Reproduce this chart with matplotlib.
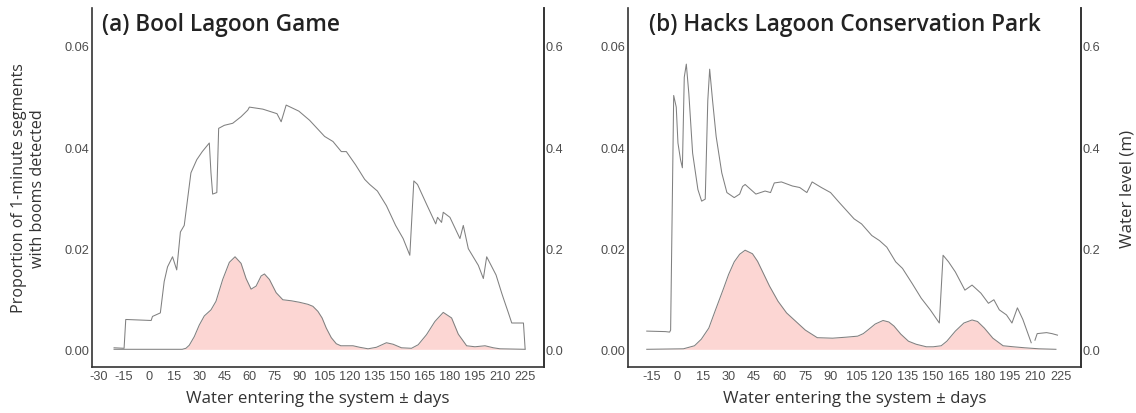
import matplotlib.pyplot as plt
import numpy as np

# panel (a) Bool Lagoon Game
a_dens_day = [-21, 0, 19.8, 22, 24, 27, 30, 33, 37, 40, 44, 48, 51.4, 55, 58, 61, 64, 67, 69, 72, 76, 80, 85, 90, 95, 98,
              101, 103.5, 106, 109, 112, 114.7, 118, 122, 126, 131, 136, 142, 146, 151, 157, 161, 166, 171, 176, 181,
              185, 190, 195, 201, 206, 210, 225]
a_dens_val = [0, 0, 0, 0.0002, 0.0008, 0.0025, 0.0048, 0.0066, 0.0078, 0.0095, 0.0138, 0.0172, 0.0183, 0.0170,
              0.0140, 0.0119, 0.0125, 0.0145, 0.0149, 0.0138, 0.0112, 0.0098, 0.0096, 0.0093, 0.0089, 0.0085,
              0.0075, 0.0062, 0.0042, 0.0023, 0.0011, 0.0007, 0.0007, 0.0007, 0.0004, 0.0001, 0.0004, 0.0013, 0.0010,
              0.0003, 0.0002, 0.0009, 0.0029, 0.0055, 0.0073, 0.0062, 0.0030, 0.0007, 0.0005, 0.0007, 0.0003, 0.0001, 0]

a_lvl_day = [-21, -15, -14, 1.2, 2, 6.7, 9, 11, 14, 16.5, 18.7, 21, 23, 25, 28.5, 31.8, 36, 37, 38, 40.5, 41.6, 45,
             50, 55, 59, 60, 68, 76.5, 79, 82, 89.6, 96, 105, 110, 115, 118, 123.5, 129, 132, 136.6, 142, 147.5,
             152, 156, 158.4, 160.6, 166, 171.5, 172.6, 175, 176, 180, 186, 188, 191, 197, 200, 202, 207.6, 211,
             212, 215, 217, 224, 225]
a_lvl_val = [0.003, 0.002, 0.059, 0.057, 0.065, 0.072, 0.134, 0.163, 0.183, 0.157, 0.232, 0.245, 0.297, 0.349,
             0.375, 0.391, 0.408, 0.349, 0.307, 0.31, 0.437, 0.443, 0.447, 0.46, 0.473, 0.479, 0.475, 0.466, 0.45,
             0.483, 0.471, 0.453, 0.421, 0.411, 0.391, 0.391, 0.365, 0.336, 0.326, 0.313, 0.284, 0.245, 0.219,
             0.186, 0.333, 0.326, 0.287, 0.248, 0.261, 0.251, 0.271, 0.261, 0.219, 0.245, 0.199, 0.166, 0.14,
             0.183, 0.147, 0.111, 0.101, 0.072, 0.052, 0.052, 0.001]

# panel (b) Hacks Lagoon Conservation Park
b_dens_day = [-18, 3.5, 10, 14, 18.4, 22, 27, 30, 33.3, 36.5, 39.7, 44, 47, 50, 54, 59, 64, 69.5, 75, 82, 91, 99,
              105.7, 109, 112, 116, 120.6, 124, 127, 131, 135.5, 140, 146, 150, 154.7, 158, 163, 168, 172.8, 176,
              180, 185, 191, 197, 203.7, 212, 222]
b_dens_val = [0, 0.0001, 0.0007, 0.0020, 0.0042, 0.0075, 0.0120, 0.0148, 0.0173, 0.0188, 0.0196, 0.0189, 0.0174,
              0.0153, 0.0125, 0.0095, 0.0072, 0.0055, 0.0038, 0.0023, 0.0022, 0.0024, 0.0026, 0.0031, 0.0039,
              0.0050, 0.0057, 0.0054, 0.0046, 0.0030, 0.0016, 0.0010, 0.0005, 0.0005, 0.0007, 0.0016, 0.0036,
              0.0052, 0.0058, 0.0055, 0.0042, 0.0022, 0.0007, 0.0005, 0.0003, 0.0001, 0]

b_lvl_day = [-18, -7, -4.6, -4, -2.2, -0.7, 0.3, 1.8, 2.9, 4, 5.2, 6.7, 8.9, 12, 14.2, 16.3, 17.8, 18.9, 20.6, 22.7,
             26, 29, 33.3, 36.5, 38.2, 39.7, 46, 51.4, 54.6, 56.8, 61, 67.4, 71.7, 75.9, 79, 84.4, 89.8, 95, 103.6,
             108, 114, 118.5, 122.8, 128, 132, 137.7, 143, 148.3, 153.6, 155.8, 159, 163, 168.6, 172.8, 178,
             182.4, 185.6, 188.8, 193, 196.2, 199.4, 202.6, 207.5]
b_lvl_val = [0.036, 0.035, 0.034, 0.038, 0.502, 0.479, 0.408, 0.375, 0.359, 0.538, 0.564, 0.505, 0.388, 0.316,
             0.293, 0.297, 0.492, 0.554, 0.492, 0.421, 0.349, 0.31, 0.3, 0.307, 0.322, 0.326, 0.307, 0.313, 0.31,
             0.329, 0.331, 0.323, 0.32, 0.31, 0.331, 0.32, 0.31, 0.29, 0.258, 0.248, 0.225, 0.215, 0.202, 0.173,
             0.16, 0.13, 0.101, 0.078, 0.052, 0.186, 0.173, 0.153, 0.117, 0.127, 0.111, 0.091, 0.098, 0.078, 0.068,
             0.052, 0.082, 0.059, 0.013]
b_lvl2_day = [209.7, 211, 216.5, 219.7, 222.9]
b_lvl2_val = [0.018, 0.031, 0.033, 0.031, 0.028]

a_ticks = list(range(-30, 226, 15))
b_ticks = list(range(-15, 226, 15))

fill_col = "#fcd6d3"
line_col = "#808080"
spine_col = "#333333"
tick_col = "#4d4d4d"
head_font = "Open Sans"
lab_size = 12.2


def panel(ax, dens_x, dens_y, lvl_parts, ticks, xlim, title, title_x):
    ax.fill_between(dens_x, 0, dens_y, color=fill_col, lw=0)
    ax.plot(dens_x, dens_y, color=line_col, lw=0.75)
    ax.set_xlim(*xlim)
    ax.set_ylim(-0.0035, 0.0675)
    ax.set_xticks(ticks)
    ax.set_xticklabels([str(t) for t in ticks])
    ax.set_yticks([0, 0.02, 0.04, 0.06])
    ax.set_yticklabels(["0.00", "0.02", "0.04", "0.06"])
    ax.tick_params(length=0, pad=2, colors=tick_col, labelsize=9.2)
    for lab in ax.get_xticklabels() + ax.get_yticklabels():
        lab.set_family("Liberation Sans")
    ax.spines["top"].set_visible(False)
    for s in ["left", "bottom", "right"]:
        ax.spines[s].set_color(spine_col)
        ax.spines[s].set_linewidth(1.2)
    ax.set_xlabel("Water entering the system ± days", family=head_font, fontsize=lab_size, color="#333333",
                  labelpad=6)
    ax.text(title_x, 0.988, title, transform=ax.transAxes, family=head_font, fontweight="semibold",
            fontsize=16.3, color="#222222", va="top", ha="left")

    ax2 = ax.twinx()
    for lx, ly in lvl_parts:
        ax2.plot(lx, ly, color=line_col, lw=0.75)
    ax2.set_ylim(-0.035, 0.675)
    ax2.set_yticks([0, 0.2, 0.4, 0.6])
    ax2.set_yticklabels(["0.0", "0.2", "0.4", "0.6"])
    ax2.tick_params(length=0, pad=1, colors=tick_col, labelsize=9.2)
    for lab in ax2.get_yticklabels():
        lab.set_family("Liberation Sans")
    for s in ["top", "left", "bottom"]:
        ax2.spines[s].set_visible(False)
    ax2.spines["right"].set_color(spine_col)
    ax2.spines["right"].set_linewidth(1.2)
    return ax2


fig = plt.figure(figsize=(11.36, 4.14), dpi=100)
ax_a = fig.add_axes([92 / 1136, 46 / 414, 452 / 1136, 359 / 414])
ax_b = fig.add_axes([628 / 1136, 46 / 414, 453 / 1136, 359 / 414])

panel(ax_a, a_dens_day, a_dens_val, [(a_lvl_day, a_lvl_val)], a_ticks, (-34.2, 236.3),
      "(a) Bool Lagoon Game", 0.022)
ax_a.set_ylabel("Proportion of 1-minute segments\nwith booms detected", family=head_font, fontsize=11.6,
                color="#333333", labelpad=13, linespacing=1.3)

ax2b = panel(ax_b, b_dens_day, b_dens_val, [(b_lvl_day, b_lvl_val), (b_lvl2_day, b_lvl2_val)], b_ticks,
             (-29, 236.7), "(b) Hacks Lagoon Conservation Park", 0.046)
ax2b.set_ylabel("Water level (m)", family=head_font, fontsize=lab_size, color="#333333", labelpad=14)

fig.savefig("out.png", dpi=100)
